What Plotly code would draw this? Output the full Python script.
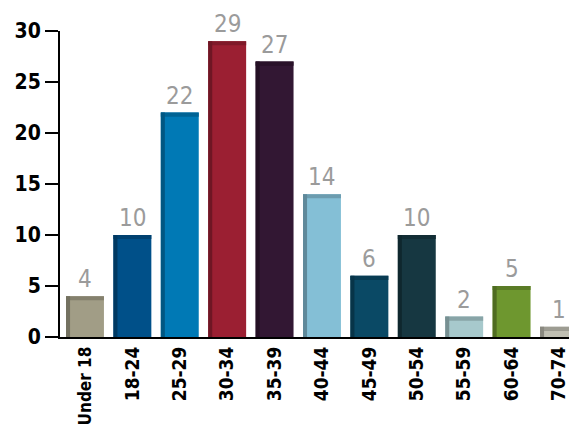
import plotly.graph_objects as go

categories = ["Under 18", "18-24", "25-29", "30-34", "35-39", "40-44",
              "45-49", "50-54", "55-59", "60-64", "70-74"]
values = [4, 10, 22, 29, 27, 14, 6, 10, 2, 5, 1]
bar_colors = ["#a19d86", "#005089", "#0079b5", "#9b1f32", "#321733", "#84bfd6",
              "#0a4965", "#163741", "#a7c9cc", "#6e972f", "#c0bfb3"]
y_ticks = [0, 5, 10, 15, 20, 25, 30]

FONT = "DejaVu Sans Condensed, DejaVu Sans, sans-serif"


def darken(hex_color, f=0.72):
    h = hex_color.lstrip("#")
    r, g, b = (int(h[i:i + 2], 16) for i in (0, 2, 4))
    return "#%02x%02x%02x" % (int(r * f), int(g * f), int(b * f))


side_colors = [darken(c, 0.72) for c in bar_colors]
cap_colors = [darken(c, 0.82) for c in bar_colors]
cap_h = 0.4

# long labels get a slightly smaller size so they fit below the axis
tick_text = [c if len(c) <= 5 else '<span style="font-size:17px">%s</span>' % c
             for c in categories]

fig = go.Figure()
# front face
fig.add_trace(go.Bar(x=categories, y=values, marker_color=bar_colors,
                     marker_line_width=0, width=0.8, offset=-0.4,
                     hoverinfo="x+y"))
# top cap
fig.add_trace(go.Bar(x=categories, y=[cap_h] * len(values),
                     base=[v - cap_h for v in values],
                     marker_color=cap_colors, marker_line_width=0,
                     width=0.8, offset=-0.4, hoverinfo="skip"))
# left side shading
fig.add_trace(go.Bar(x=categories, y=values, marker_color=side_colors,
                     marker_line_width=0, width=0.085, offset=-0.4,
                     hoverinfo="skip"))

for c, v in zip(categories, values):
    fig.add_annotation(x=c, y=v, text=str(v), showarrow=False,
                       yanchor="bottom", yshift=2, borderpad=0,
                       font=dict(family=FONT, size=24, color="#9b9b9b"))

fig.update_layout(
    width=569, height=416,
    margin=dict(l=52, r=0, t=23, b=87, autoexpand=False),
    paper_bgcolor="white", plot_bgcolor="white",
    barmode="overlay", showlegend=False,
    font=dict(family=FONT, size=20, color="black"),
)
fig.update_xaxes(range=[-0.527, 10.38], showline=True, linecolor="black",
                 linewidth=2, ticks="", tickangle=-90, showgrid=False,
                 automargin=False, tickmode="array", tickvals=categories,
                 ticktext=tick_text,
                 tickfont=dict(family=FONT, size=19, color="black",
                               weight="bold"))
fig.update_yaxes(range=[0, 30], tickvals=y_ticks, showline=True,
                 linecolor="black", linewidth=2, ticks="outside", ticklen=13,
                 tickwidth=2, tickcolor="black", showgrid=False,
                 zeroline=False, automargin=False,
                 tickfont=dict(family=FONT, size=21, color="black",
                               weight="bold"))

fig.write_html("out.html")
